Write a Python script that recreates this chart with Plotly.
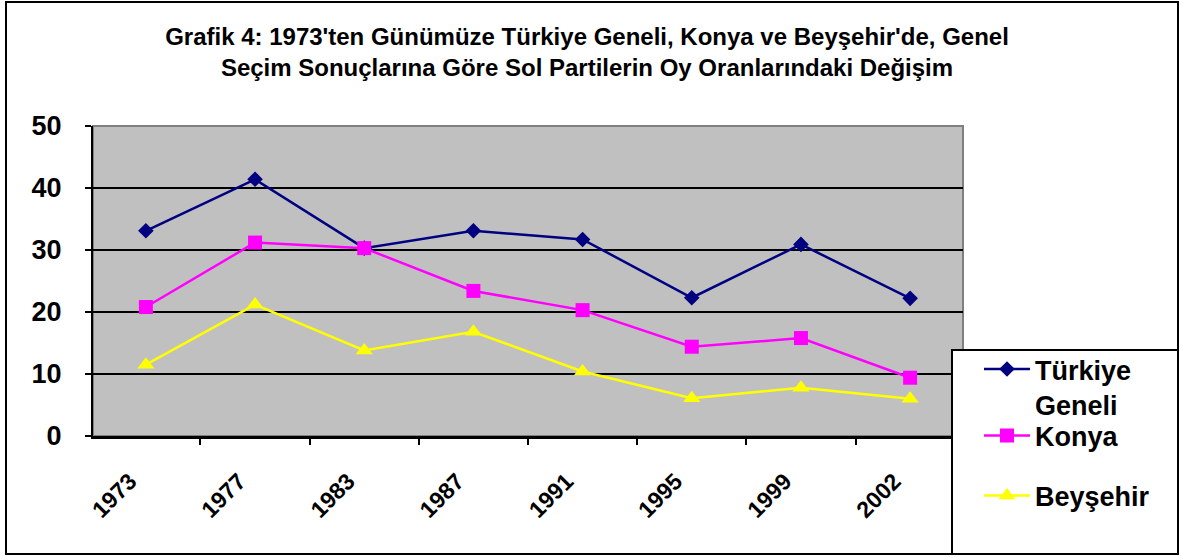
import plotly.graph_objects as go

years = ["1973", "1977", "1983", "1987", "1991", "1995", "1999", "2002"]
turkiye = [33.1, 41.4, 30.3, 33.1, 31.7, 22.3, 30.9, 22.2]
konya = [20.8, 31.2, 30.3, 23.4, 20.3, 14.4, 15.8, 9.4]
beysehir = [11.5, 21.2, 13.8, 16.8, 10.4, 6.1, 7.8, 6.0]
y_ticks = [0, 10, 20, 30, 40, 50]

W, H = 1181, 557
L, R, T, B = 93, 963, 126, 436


def px(x):
    return (x - L) / (R - L)


def py(y):
    return (B - y) / (B - T)


FONT = "Arial, Liberation Sans, sans-serif"

fig = go.Figure()
fig.add_trace(go.Scatter(
    x=years, y=turkiye, name="Türkiye<br>Geneli", mode="lines+markers",
    line=dict(color="#000080", width=2.5),
    marker=dict(symbol="diamond", size=12, color="#000080"),
    legend="legend", showlegend=True))
fig.add_trace(go.Scatter(
    x=years, y=konya, name="Konya", mode="lines+markers",
    line=dict(color="#FF00FF", width=2.5),
    marker=dict(symbol="square", size=14, color="#FF00FF"),
    legend="legend2", showlegend=True))
fig.add_trace(go.Scatter(
    x=years, y=beysehir, name="Beyşehir", mode="lines+markers",
    line=dict(color="#FFFF00", width=2.5),
    marker=dict(symbol="triangle-up", size=15, color="#FFFF00"),
    legend="legend3", showlegend=True))

legfont = dict(family=FONT, size=27, color="black", weight="bold")
legcommon = dict(font=legfont, bgcolor="rgba(0,0,0,0)", borderwidth=0,
                 xanchor="left", yanchor="middle", valign="top",
                 itemwidth=46, visible=True)

fig.update_layout(
    width=W, height=H,
    showlegend=True,
    margin=dict(l=L, r=W - R, t=T, b=H - B, pad=0),
    paper_bgcolor="white",
    plot_bgcolor="#C0C0C0",
    title=dict(
        text="Grafik 4: 1973'ten Günümüze Türkiye Geneli, Konya ve Beyşehir'de, Genel<br>"
             "Seçim Sonuçlarına Göre Sol Partilerin Oy Oranlarındaki Değişim",
        x=587 / W, xanchor="center", y=1 - 45 / H, yanchor="middle",
        font=dict(family=FONT, size=24, color="black", weight="bold")),
    legend=dict(x=px(979), y=py(387), **legcommon),
    legend2=dict(x=px(979), y=py(436), **legcommon),
    legend3=dict(x=px(979), y=py(496), **legcommon),
    xaxis=dict(
        type="category", categoryorder="array", categoryarray=years,
        tickson="boundaries", ticks="outside", ticklen=6, tickwidth=2,
        tickcolor="black", showline=True, linecolor="black", linewidth=2.5,
        showgrid=False, tickangle=-45, ticklabelstandoff=20,
        ticklabelshift=-16,
        tickfont=dict(family=FONT, size=23, color="black", weight="bold"),
        fixedrange=True),
    yaxis=dict(
        range=[0, 50], tickvals=y_ticks, ticks="outside", ticklen=6,
        tickwidth=2, tickcolor="black", showline=True, linecolor="black",
        linewidth=2, showgrid=True, gridcolor="black", gridwidth=2,
        zeroline=False, ticklabelstandoff=18,
        tickfont=dict(family=FONT, size=27, color="black", weight="bold"),
        fixedrange=True),
    shapes=[
        dict(type="rect", xref="paper", yref="paper", x0=0, x1=1, y0=0, y1=1,
             line=dict(color="#808080", width=2), layer="between"),
        dict(type="rect", xref="paper", yref="paper",
             x0=px(6), x1=px(1178), y0=py(554), y1=py(2),
             line=dict(color="black", width=2), layer="above"),
        dict(type="rect", xref="paper", yref="paper",
             x0=px(952), x1=px(1178), y0=py(554), y1=py(350),
             line=dict(color="black", width=2), fillcolor="white",
             layer="above"),
    ],
)

fig.write_html("out.html", config={"displayModeBar": False},
               post_script="document.body.style.margin='0';document.body.style.padding='0';")
